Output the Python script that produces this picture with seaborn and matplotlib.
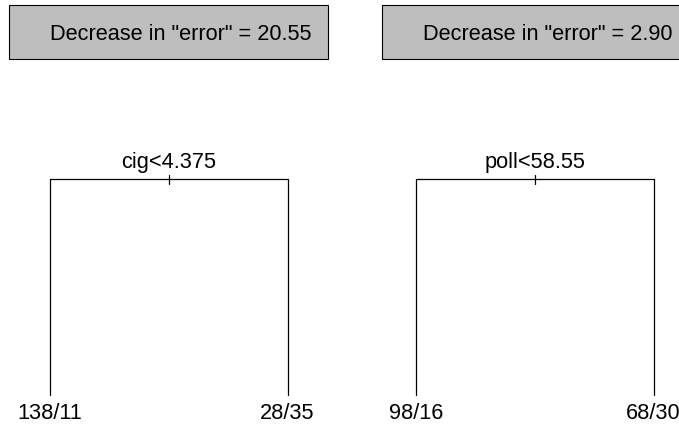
import matplotlib
matplotlib.use('Agg')
import matplotlib.pyplot as plt
from matplotlib.patches import Rectangle
import pandas as pd
import seaborn as sns

sns.set_theme(style='white')
plt.rcParams['font.family'] = ['Liberation Sans', 'DejaVu Sans']

# one stump per panel
split_labels = ['cig<4.375', 'poll<58.55']
left_leaves = ['138/11', '98/16']
right_leaves = ['28/35', '68/30']
decrease = [20.55, 2.90]

W, H = 679, 426
fig = plt.figure(figsize=(W / 100, H / 100), dpi=100)
fs = 15.7

# panel geometry in pixels (left edge of tree, box left edge)
tree_left = [50, 416]
tree_w = 237.5
tree_top, tree_bot = 179, 395
box_left = [9, 382]
box_w, box_top, box_bot = 319, 5, 59

for i, split in enumerate(split_labels):
    # header box
    fig.patches.append(Rectangle((box_left[i] / W, 1 - box_bot / H),
                                 box_w / W, (box_bot - box_top) / H,
                                 transform=fig.transFigure, facecolor='#bebebe',
                                 edgecolor='black', linewidth=0.8))
    fig.text((box_left[i] + 41) / W, 1 - 40.5 / H,
             f'Decrease in "error" = {decrease[i]:.2f}',
             fontsize=fs, ha='left', va='baseline', color='black')

    ax = fig.add_axes([tree_left[i] / W, 1 - tree_bot / H,
                       tree_w / W, (tree_bot - tree_top) / H])
    seg = pd.DataFrame({'x': [0, 0, 1, 1], 'y': [0, 1, 1, 0], 'order': range(4)})
    sns.lineplot(data=seg, x='x', y='y', sort=False, estimator=None,
                 color='black', linewidth=0.9, ax=ax)
    d = 4.5 / (tree_bot - tree_top)
    ax.plot([0.5, 0.5], [1 - d, 1 + d], color='black', linewidth=0.9)
    ax.set_xlim(0, 1)
    ax.set_ylim(0, 1)
    ax.axis('off')
    for ln in ax.lines:
        ln.set_clip_on(False)

    ax.annotate(split, (0.5, 1), xytext=(0, 11 * 0.72), textcoords='offset points',
                ha='center', va='baseline', fontsize=fs, color='black',
                annotation_clip=False)
    ax.annotate(left_leaves[i], (0, 0), xytext=(0, -24 * 0.72), textcoords='offset points',
                ha='center', va='baseline', fontsize=fs, color='black',
                annotation_clip=False)
    ax.annotate(right_leaves[i], (1, 0), xytext=(0, -24 * 0.72), textcoords='offset points',
                ha='center', va='baseline', fontsize=fs, color='black',
                annotation_clip=False)

fig.savefig('out.png', dpi=100)
